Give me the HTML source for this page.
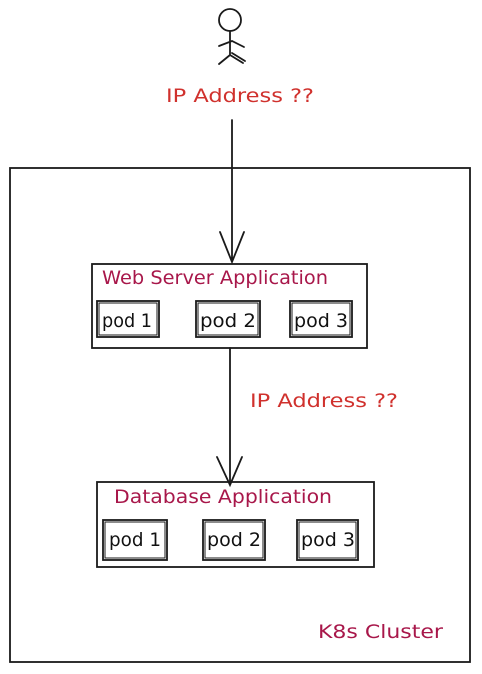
<html><body style="margin:0;background:#fff;width:482px;height:674px;overflow:hidden">
<svg width="482" height="674" xmlns="http://www.w3.org/2000/svg" font-family="'Comic Sans MS','DejaVu Sans',sans-serif" stroke-linecap="round">
<g fill="none" stroke="#1a1a1a" stroke-width="1.8">
<circle cx="230" cy="20" r="11"/>
<path d="M230 31 L230 55 M219 46 L232 41 L244 47 M230 55 L219 64 M230 55 L243 63 M232 53 L245 61"/>
<rect x="10" y="168" width="460" height="494"/>
<path d="M232 120 L232 262 M220 232 L232 262 L244 232"/>
<rect x="92" y="264" width="275" height="84"/>
<rect x="97" y="301" width="62" height="36"/><rect x="99" y="303" width="58" height="32" stroke-width="1"/>
<rect x="196" y="301" width="64" height="36"/><rect x="198" y="303" width="60" height="32" stroke-width="1"/>
<rect x="290" y="301" width="62" height="36"/><rect x="292" y="303" width="58" height="32" stroke-width="1"/>
<path d="M230 348 L230 485 M217 457 L230 485 L242 457"/>
<rect x="97" y="482" width="277" height="85"/>
<rect x="103" y="520" width="64" height="40"/><rect x="105" y="522" width="60" height="36" stroke-width="1"/>
<rect x="203" y="520" width="62" height="40"/><rect x="205" y="522" width="58" height="36" stroke-width="1"/>
<rect x="297" y="520" width="61" height="40"/><rect x="299" y="522" width="57" height="36" stroke-width="1"/>
</g>
<g font-size="19">
<text x="166" y="102" fill="#d0312d" textLength="148" lengthAdjust="spacingAndGlyphs">IP Address ??</text>
<text x="250" y="407" fill="#d0312d" textLength="148" lengthAdjust="spacingAndGlyphs">IP Address ??</text>
<text x="102" y="284" fill="#a8174a" textLength="226" lengthAdjust="spacingAndGlyphs">Web Server Application</text>
<text x="114" y="503" fill="#a8174a" textLength="218" lengthAdjust="spacingAndGlyphs">Database Application</text>
<text x="318" y="638" fill="#a8174a" textLength="125" lengthAdjust="spacingAndGlyphs">K8s Cluster</text>
</g>
<g font-size="19" fill="#111">
<text x="102" y="327" textLength="50" lengthAdjust="spacingAndGlyphs">pod 1</text><text x="200" y="327" textLength="56" lengthAdjust="spacingAndGlyphs">pod 2</text><text x="294" y="327" textLength="54" lengthAdjust="spacingAndGlyphs">pod 3</text>
<text x="109" y="546" textLength="52" lengthAdjust="spacingAndGlyphs">pod 1</text><text x="207" y="546" textLength="54" lengthAdjust="spacingAndGlyphs">pod 2</text><text x="301" y="546" textLength="54" lengthAdjust="spacingAndGlyphs">pod 3</text>
</g>
</svg>
</body></html>
